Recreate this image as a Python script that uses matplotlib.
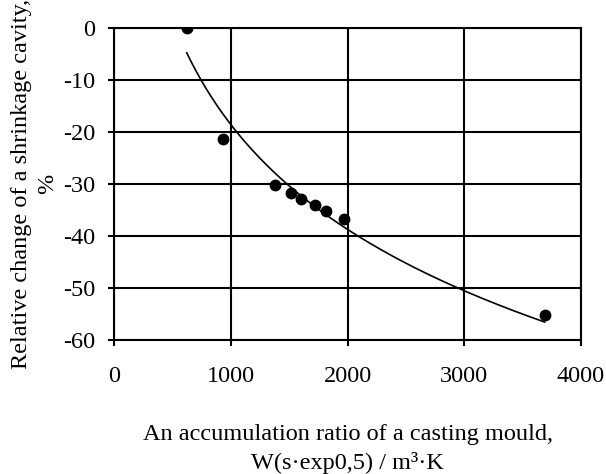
import numpy as np
import matplotlib
matplotlib.use("Agg")
import matplotlib.pyplot as plt

# data
ratio = [623, 936, 1379, 1516, 1599, 1722, 1816, 1970, 3689]
change = [0.0, -21.4, -30.1, -31.7, -32.9, -34.0, -35.2, -36.8, -55.2]

x_ticks = [0, 1000, 2000, 3000, 4000]
y_ticks = [0, -10, -20, -30, -40, -50, -60]

plt.rcParams['font.family'] = ['Liberation Serif', 'DejaVu Serif']
plt.rcParams['font.size'] = 17.5
plt.rcParams['axes.unicode_minus'] = False

fig = plt.figure(figsize=(6.06, 4.74), dpi=100)
ax = fig.add_axes([114 / 606, 1 - 340 / 474, 467 / 606, 312 / 474])

# logarithmic trend line (as in a spreadsheet)
a, b = np.polyfit(np.log(ratio), change, 1)
xs = np.linspace(min(ratio), max(ratio), 200)
ax.plot(xs, a * np.log(xs) + b, color='black', linewidth=1.2)

ax.plot(ratio, change, 'o', color='black', markersize=7.5, zorder=3)

ax.set_xlim(0, 4000)
ax.set_ylim(-60, 0)
ax.set_xticks(x_ticks)
ax.set_yticks(y_ticks)
ax.grid(True, color='black', linewidth=1.5)
for s in ax.spines.values():
    s.set_linewidth(1.5)
ax.tick_params(direction='out', length=4.5, width=1.5)
ax.tick_params(axis='x', pad=14)
ax.tick_params(axis='y', pad=9)

ax.set_xlabel('An accumulation ratio of a casting mould,\nW(s·exp0,5) / m³·K',
              linespacing=1.4)
ax.xaxis.set_label_coords(0.5, -0.27)
ax.set_ylabel('Relative change of a shrinkage cavity,\n%', linespacing=1.3)
ax.yaxis.set_label_coords(-0.12, 0.5)

fig.savefig('out.png', dpi=100)
